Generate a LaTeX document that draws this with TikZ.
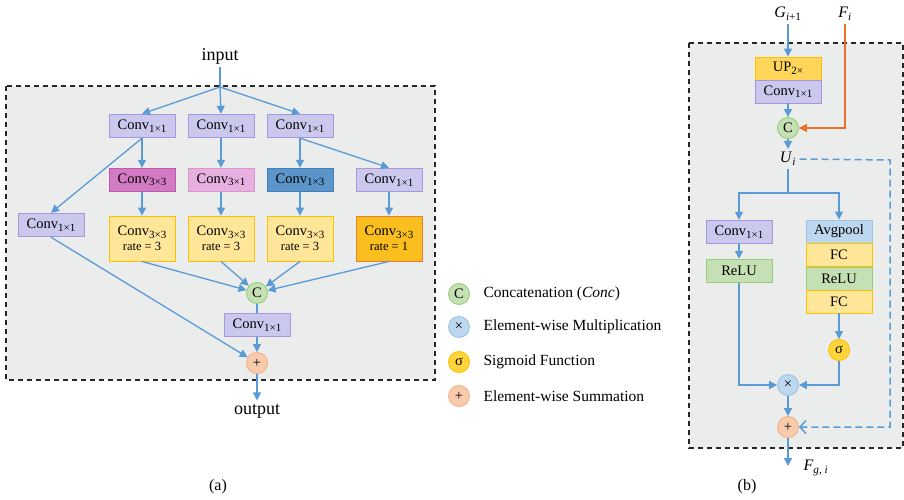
\documentclass[tikz,border=0pt]{standalone}
\usepackage{fontspec}
\setmainfont{Liberation Serif}
\usetikzlibrary{arrows.meta}
\definecolor{lineblue}{RGB}{91,155,213}
\definecolor{lineorg}{RGB}{240,110,40}
\definecolor{bggray}{RGB}{235,236,236}
\definecolor{lavfill}{RGB}{203,200,238}
\definecolor{lavdraw}{RGB}{170,150,222}
\definecolor{magfill}{RGB}{211,122,196}
\definecolor{magdraw}{RGB}{190,90,170}
\definecolor{pinkfill}{RGB}{232,176,224}
\definecolor{pinkdraw}{RGB}{215,150,205}
\definecolor{bluefill}{RGB}{91,149,201}
\definecolor{bluedraw}{RGB}{70,125,185}
\definecolor{yelfill}{RGB}{255,230,153}
\definecolor{yeldraw}{RGB}{255,192,0}
\definecolor{orgfill}{RGB}{250,190,30}
\definecolor{orgdraw}{RGB}{237,125,49}
\definecolor{upfill}{RGB}{255,214,90}
\definecolor{grnfill}{RGB}{197,224,180}
\definecolor{grndraw}{RGB}{150,205,120}
\definecolor{avgfill}{RGB}{189,215,238}
\definecolor{avgdraw}{RGB}{157,195,230}
\definecolor{sigfill}{RGB}{255,212,60}
\definecolor{plusfill}{RGB}{248,203,173}
\definecolor{plusdraw}{RGB}{244,177,131}
\newcommand{\subsc}[1]{\raisebox{-2.5pt}{\fontsize{11}{12}\selectfont #1}}
\newcommand{\conv}[1]{Conv\subsc{#1}}
\tikzset{
  box/.style={draw, line width=0.9pt, minimum width=66pt, minimum height=23.5pt, inner sep=0pt, align=center},
  lavbox/.style={box, fill=lavfill, draw=lavdraw},
  magbox/.style={box, fill=magfill, draw=magdraw},
  pinkbox/.style={box, fill=pinkfill, draw=pinkdraw},
  bluebox/.style={box, fill=bluefill, draw=bluedraw},
  yelbox/.style={box, fill=yelfill, draw=yeldraw, minimum height=45pt},
  orgbox/.style={box, fill=orgfill, draw=orgdraw, minimum height=45pt},
  opc/.style={circle, line width=0.9pt, minimum size=21pt, inner sep=0pt},
  catc/.style={opc, fill=grnfill, draw=grndraw},
  mulc/.style={opc, fill=avgfill, draw=avgdraw},
  sigc/.style={opc, fill=sigfill, draw=yeldraw},
  addc/.style={opc, fill=plusfill, draw=plusdraw},
  arr/.style={draw=lineblue, line width=1.3pt, -{Triangle[length=8pt,width=8pt]}},
  lin/.style={draw=lineblue, line width=1.3pt},
  dashbox/.style={draw=black!85, fill=bggray, line width=1.3pt, dash pattern=on 5pt off 4pt}
}
\begin{document}
\begin{tikzpicture}[x=1pt, y=-1pt, font=\fontsize{14.5}{16}\selectfont]
    \useasboundingbox (0,0) rectangle (904,500);
    \draw [dashbox] (6,86) rectangle (435,380);
    \draw [dashbox] (689,43) rectangle (903,448);
    % (a)
    \node (in) at (220,56) [font=\fontsize{18}{20}\selectfont] {input};
    \coordinate (j) at (220,87);
    \node (a1) at (142,126) [lavbox] {\conv{1×1}};
    \node (a2) at (221,126) [lavbox] {\conv{1×1}};
    \node (a3) at (300,126) [lavbox] {\conv{1×1}};
    \node (b1) at (142,180) [magbox] {\conv{3×3}};
    \node (b2) at (221,180) [pinkbox] {\conv{3×1}};
    \node (b3) at (300,180) [bluebox] {\conv{1×3}};
    \node (b4) at (389,180) [lavbox] {\conv{1×1}};
    \node (c0) at (51,225) [lavbox] {\conv{1×1}};
    \node (d1) at (142,238.5) [yelbox] {\conv{3×3}\\[-1pt]{\fontsize{12.5}{14}\selectfont rate = 3}};
    \node (d2) at (221,238.5) [yelbox] {\conv{3×3}\\[-1pt]{\fontsize{12.5}{14}\selectfont rate = 3}};
    \node (d3) at (300,238.5) [yelbox] {\conv{3×3}\\[-1pt]{\fontsize{12.5}{14}\selectfont rate = 3}};
    \node (d4) at (389,238.5) [orgbox] {\conv{3×3}\\[-1pt]{\fontsize{12.5}{14}\selectfont rate = 1}};
    \node (ca) at (257,293) [catc] {C};
    \node (e) at (257,325) [lavbox] {\conv{1×1}};
    \node (pa) at (257,363) [addc] {+};
    \node (out) at (257,411) [font=\fontsize{18}{20}\selectfont] {output};
    \draw [lin] (in.south) -- (j);
    \draw [arr] (j) -- (a1.north);
    \draw [arr] (j) -- (a2.north);
    \draw [arr] (j) -- (a3.north);
    \draw [arr] (a1.south) -- (b1.north);
    \draw [arr] (a1.south) -- (c0.north);
    \draw [arr] (a2.south) -- (b2.north);
    \draw [arr] (a3.south) -- (b3.north);
    \draw [arr] (a3.south) -- (b4.north);
    \draw [arr] (b1) -- (d1);
    \draw [arr] (b2) -- (d2);
    \draw [arr] (b3) -- (d3);
    \draw [arr] (b4) -- (d4);
    \draw [arr] (d1.south) -- (ca);
    \draw [arr] (d2.south) -- (ca);
    \draw [arr] (d3.south) -- (ca);
    \draw [arr] (d4.south) -- (ca);
    \draw [lin] (ca) -- (e);
    \draw [arr] (e) -- (pa);
    \draw [arr] (c0.south) -- (pa);
    \draw [arr] (pa) -- (out.north);
    \node (capa) at (218,487) [font=\fontsize{16}{18}\selectfont] {(a)};
    % legend
    \node (lc) at (459,294) [catc] {C};
    \node (lm) at (459,327) [mulc] {×};
    \node (ls) at (459,362) [sigc] {σ};
    \node (lp) at (459,396) [addc] {+};
    \node at (480,294) [anchor=west, font=\fontsize{15.5}{18}\selectfont] {Concatenation (\textit{Conc})};
    \node at (480,327) [anchor=west, font=\fontsize{15.5}{18}\selectfont] {Element-wise Multiplication};
    \node at (480,362) [anchor=west, font=\fontsize{15.5}{18}\selectfont] {Sigmoid Function};
    \node at (480,396) [anchor=west, font=\fontsize{15.5}{18}\selectfont] {Element-wise Summation};
    % (b)
    \node (g) at (788,14) [font=\fontsize{16}{18}\selectfont] {\textit{G}\textsubscript{\textit{i}+1}};
    \node (f) at (845,14) [font=\fontsize{16}{18}\selectfont] {\textit{F}\textsubscript{\textit{i}}};
    \node (up) at (788,68.5) [box, fill=upfill, draw=yeldraw, minimum height=23pt] {UP\subsc{2×}};
    \node (cu) at (788,91.5) [lavbox, minimum height=23pt] {\conv{1×1}};
    \node (cb) at (788,128) [catc] {C};
    \node (ui) at (788,159) [font=\fontsize{16}{18}\selectfont] {\textit{U}\textsubscript{\textit{i}}};
    \coordinate (s) at (788,193);
    \coordinate (ur) at (890,160);
    \node (cv) at (739,232) [lavbox] {\conv{1×1}};
    \node (rl) at (739,271) [box, fill=grnfill, draw=grndraw] {ReLU};
    \node (avg) at (839,231.5) [box, fill=avgfill, draw=avgdraw, minimum height=23pt] {Avgpool};
    \node (fc1) at (839,255) [box, fill=yelfill, draw=yeldraw, minimum height=23pt] {FC};
    \node (rl2) at (839,278.5) [box, fill=grnfill, draw=grndraw, minimum height=23pt] {ReLU};
    \node (fc2) at (839,301.5) [box, fill=yelfill, draw=yeldraw, minimum height=23pt] {FC};
    \node (sg) at (839,350) [sigc] {σ};
    \node (mul) at (788,385) [mulc] {×};
    \node (pb) at (788,427) [addc] {+};
    \coordinate (fo) at (788,466);
    \node (fg) at (800,468) [anchor=west, font=\fontsize{16}{18}\selectfont] {\textit{F}\textsubscript{\textit{g}, \textit{i}}};
    \draw [arr] (g.south) -- (up.north);
    \draw [arr] (cu.south) -- (cb.north);
    \draw [draw=lineorg, line width=1.3pt, -{Triangle[length=8pt,width=8pt]}] (f.south) |- (cb.east);
    \draw [arr] (cb.south) -- (ui.north);
    \draw [lin] (ui.south) -- (s);
    \draw [arr] (s) -| (cv.north);
    \draw [arr] (s) -| (avg.north);
    \draw [arr] (cv) -- (rl);
    \draw [arr] (fc2.south) -- (sg.north);
    \draw [arr] (rl.south) |- (mul.west);
    \draw [arr] (sg.south) |- (mul.east);
    \draw [arr] (mul) -- (pb);
    \draw [draw=lineblue, line width=1.5pt, dash pattern=on 7pt off 4pt, -{Straight Barb[length=6pt,width=13pt]}] (ui.east) -- (ur) |- (pb.east);
    \draw [arr] (pb.south) -- (fo);
    \node (capb) at (747,487) [font=\fontsize{16}{18}\selectfont] {(b)};
\end{tikzpicture}
\end{document}
